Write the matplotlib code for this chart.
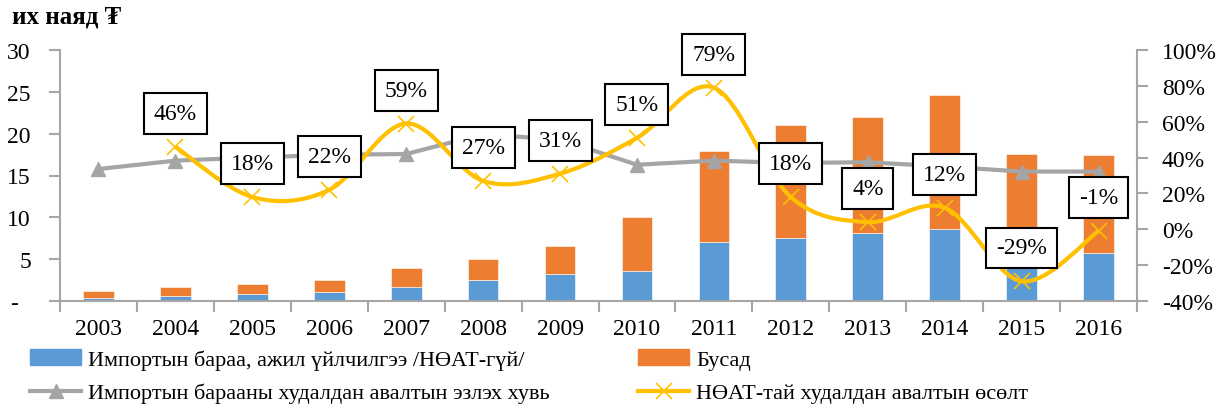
import numpy as np
import matplotlib.pyplot as plt
from matplotlib.path import Path
from matplotlib.patches import PathPatch
from matplotlib.lines import Line2D
from matplotlib.patches import Patch

plt.rcParams['font.family'] = ['Liberation Serif', 'DejaVu Serif']

# Өгөгдөл
years = ['2003', '2004', '2005', '2006', '2007', '2008', '2009',
         '2010', '2011', '2012', '2013', '2014', '2015', '2016']
import_noat = [0.33, 0.6, 0.84, 1.08, 1.64, 2.55, 3.23, 3.55, 7.0, 7.53, 8.09, 8.64, 4.2, 5.7]
total = [1.16, 1.71, 2.03, 2.47, 3.94, 5.02, 6.57, 10.0, 17.9, 21.06, 21.98, 24.65, 17.56, 17.48]
busad = [t - b for t, b in zip(total, import_noat)]
share = [33.6, 38.3, 40.0, 41.5, 42.0, 53.0, 50.0, 36.0, 38.3, 37.0, 37.4, 35.0, 32.2, 32.2]
growth_years = years[1:]
growth = [46, 18, 22, 59, 27, 31, 51, 79, 18, 4, 12, -29, -1]

leg_labels = ['Импортын бараа, ажил үйлчилгээ /НӨАТ-гүй/',
              'Импортын барааны худалдан авалтын эзлэх хувь',
              'Бусад',
              'НӨАТ-тай худалдан авалтын өсөлт']

c_blue, c_orange, c_grey, c_yellow = '#5B9BD5', '#ED7D31', '#A5A5A5', '#FFC000'
spine_c = '#A6A6A6'

fig = plt.figure(figsize=(12.2, 4.1), dpi=100)
ax = fig.add_axes([60/1220, 1 - 302/410, (1137-60)/1220, (302-51)/410])
ax2 = ax.twinx()

x = np.arange(len(years))
ax.bar(x, import_noat, width=0.4, color=c_blue, edgecolor='white', linewidth=0.4)
ax.bar(x, busad, width=0.4, bottom=import_noat, color=c_orange, edgecolor='white', linewidth=0.4)

ax.set_xlim(-0.5, len(years) - 0.5)
ax.set_ylim(0, 30)
ax.set_yticks(range(0, 31, 5))
ax.set_yticklabels(['-  '] + [str(v) for v in range(5, 31, 5)], fontsize=17)
ax.set_xticks(x)
ax.set_xticklabels(years, fontsize=17)
ax.set_xticks(np.arange(-0.5, len(years), 1), minor=True)
ax.tick_params(axis='x', which='major', length=0, pad=12)
ax.tick_params(axis='x', which='minor', length=8, width=1.5, color=spine_c)
ax.tick_params(axis='y', length=8, width=1.5, color=spine_c, pad=13)

# Хоёрдогч тэнхлэг (%)
ax2.set_ylim(-40, 100)
ax2.set_yticks(range(-40, 101, 20))
ax2.set_yticklabels([f'{v}%' for v in range(-40, 101, 20)], fontsize=17)
ax2.tick_params(axis='y', length=8, width=1.5, color=spine_c, pad=10)

for a in (ax, ax2):
    a.spines['top'].set_visible(False)
    for s in ('left', 'right', 'bottom'):
        a.spines[s].set_color(spine_c)
        a.spines[s].set_linewidth(1.5)
ax.spines['right'].set_visible(False)
ax2.spines['left'].set_visible(False)
ax2.spines['bottom'].set_visible(False)

ax2.plot(x, share, color=c_grey, linewidth=3, marker='^', markersize=10, zorder=3)

# Гөлгөр муруй (Excel маягийн)
gx = x[1:]
gy = np.array(growth, dtype=float)
n = len(gx)
verts = [(gx[0], gy[0])]
codes = [Path.MOVETO]
for i in range(n - 1):
    p0 = max(i - 1, 0)
    p3 = min(i + 2, n - 1)
    c1 = (gx[i] + (gx[i+1] - gx[p0]) / 6, gy[i] + (gy[i+1] - gy[p0]) / 6)
    c2 = (gx[i+1] - (gx[p3] - gx[i]) / 6, gy[i+1] - (gy[p3] - gy[i]) / 6)
    verts += [c1, c2, (gx[i+1], gy[i+1])]
    codes += [Path.CURVE4] * 3
ax2.add_patch(PathPatch(Path(verts, codes), facecolor='none', edgecolor=c_yellow,
                        linewidth=3, zorder=4))
ax2.plot(gx, gy, linestyle='none', marker='x', markersize=11, markeredgewidth=1.2,
         color=c_yellow, zorder=5)

for xi, yi in zip(gx, growth):
    ax2.annotate(f'{yi}%', (xi, yi), xytext=(0, 24), textcoords='offset points',
                 ha='center', va='center', fontsize=17, zorder=6,
                 bbox=dict(boxstyle='square,pad=0.42', facecolor='white',
                           edgecolor='black', linewidth=1.5))

fig.text(12/1220, 1 - 5/410, 'их наяд ₮', fontsize=18, fontweight='bold',
         ha='left', va='top')

handles = [Patch(color=c_blue),
           Line2D([], [], color=c_grey, linewidth=3, marker='^', markersize=10),
           Patch(color=c_orange),
           Line2D([], [], color=c_yellow, linewidth=3, marker='x', markersize=11,
                  markeredgewidth=1.2)]
fig.legend(handles, leg_labels, ncol=2, loc='upper left',
           bbox_to_anchor=(30/1220, 1 - 350/410), frameon=False, fontsize=16,
           handlelength=2.3, handletextpad=0.3, columnspacing=4.0,
           labelspacing=0.6, borderpad=0, borderaxespad=0)

fig.savefig('out.png', dpi=100)
